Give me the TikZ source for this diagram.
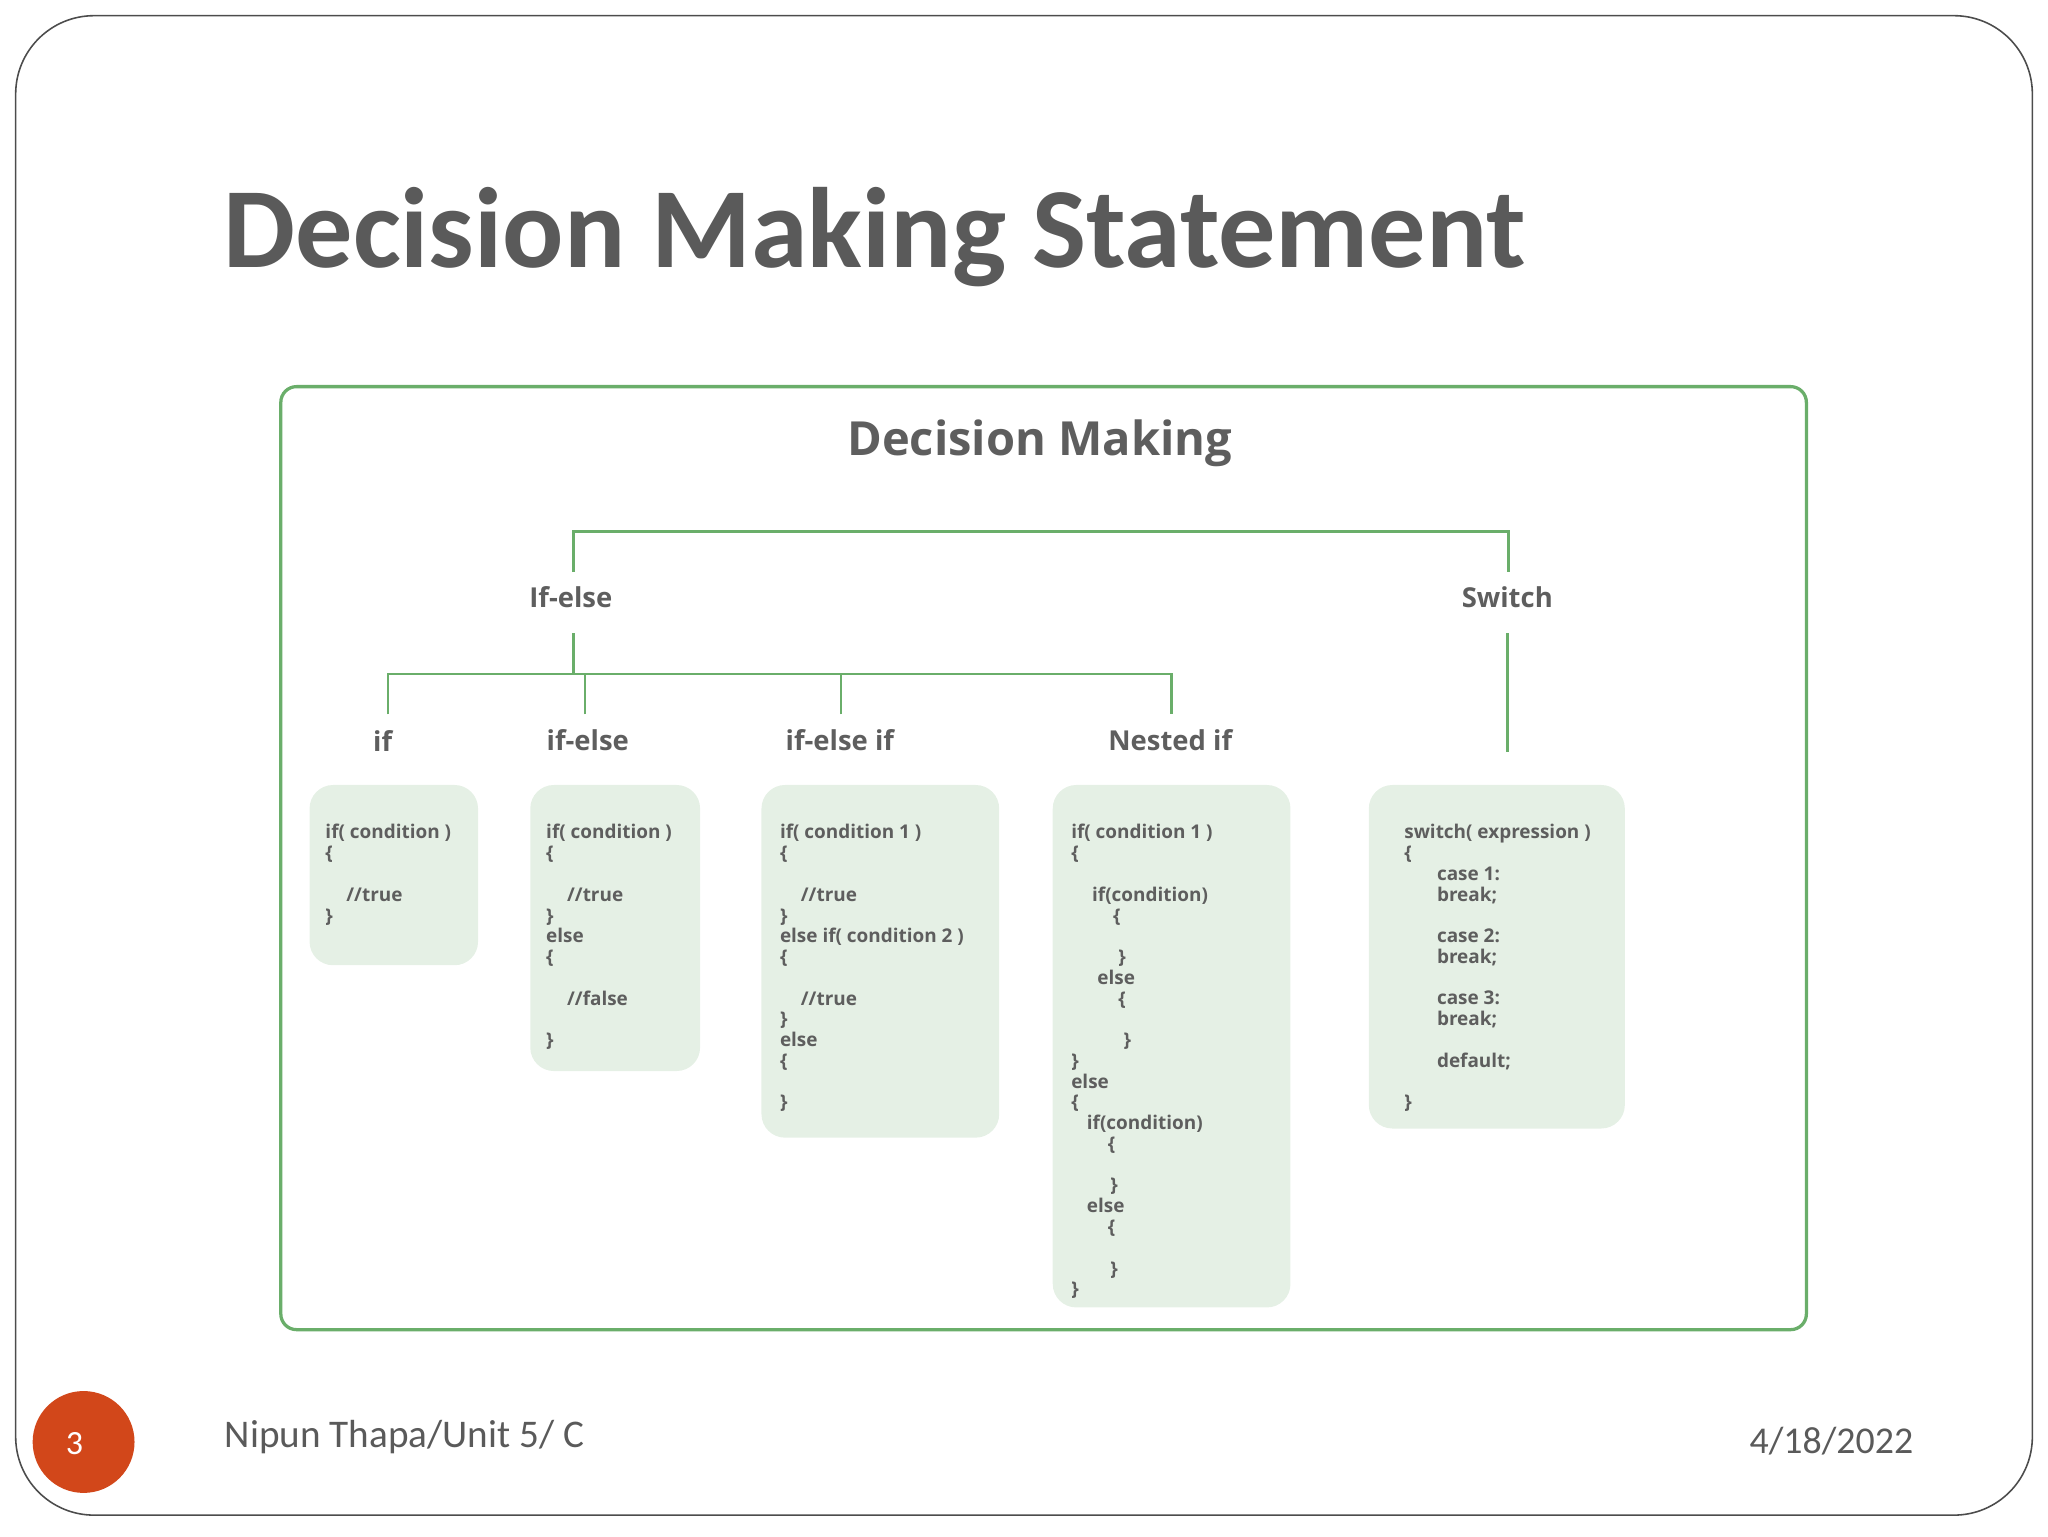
\documentclass[tikz,border=0pt]{standalone}
\usepackage{fontspec}
\setmainfont{Carlito}
\newfontfamily\diag{Open Sans}
\definecolor{gline}{HTML}{6AAE6A}
\definecolor{gfill}{HTML}{E5F0E5}
\definecolor{ttl}{HTML}{5A5A5A}
\definecolor{ctext}{HTML}{5E5E5E}
\definecolor{orng}{HTML}{D2471A}
\begin{document}
\begin{tikzpicture}[x=1pt,y=-1pt,
  conn/.style={draw=gline,line width=2pt},
  codebox/.style={fill=gfill,rounded corners=18pt},
  code/.style={anchor=north west,align=left,inner sep=0pt,font=\diag\bfseries\fontsize{14.5}{15.9}\selectfont,text=ctext},
  lbl/.style={font=\diag\bfseries\fontsize{21}{24}\selectfont,text=ctext},
  hd/.style={font=\diag\bfseries\fontsize{36}{40}\selectfont,text=ctext}]
\useasboundingbox (0,0) rectangle (1568,1176);
\draw[line width=1.2pt,rounded corners=60pt,draw=black!70] (12,12) rectangle (1556,1160);
\node[anchor=base west,inner sep=0pt,font=\bfseries\fontsize{87.5}{90}\selectfont,text=ttl] (title) at (171,205) {Decision Making Statement};
\draw[gline,line width=2.5pt,rounded corners=12pt] (215,296) rectangle (1383,1018);
\node[hd] (dm) at (796,339) {Decision Making};
% level 1
\node[lbl] (ifelse) at (437,457) {If-else};
\node[lbl] (switch) at (1154,457) {Switch};
\coordinate (t1) at (439,438); \coordinate (t2) at (1155,438);
\draw[conn] (t1) |- (1155,407) -- (t2);
% level 2
\node[lbl] (nif) at (293,567) {if};
\node[lbl] (nifelse) at (450,567) {if-else};
\node[lbl] (nelif) at (643,567) {if-else if};
\node[lbl] (nnest) at (896,567) {Nested if};
\coordinate (b0) at (439,485); \coordinate (b1) at (439,516);
\coordinate (c1) at (297,547); \coordinate (c2) at (448,547);
\coordinate (c3) at (644,547); \coordinate (c4) at (897,547);
\draw[conn] (b0) -- (b1);
\draw[conn] (c1) |- (897,516) -- (c4);
\draw[conn] (c2) -- (448,516);
\draw[conn] (c3) -- (644,516);
\coordinate (s0) at (1154,485); \coordinate (s1) at (1154,576);
\draw[conn] (s0) -- (s1);
% boxes
\fill[codebox] (237,601) rectangle (366,739);
\fill[codebox] (406,601) rectangle (536,820);
\fill[codebox] (583,601) rectangle (765,871);
\fill[codebox] (806,601) rectangle (988,1001);
\fill[codebox] (1048,601) rectangle (1244,864);
\node[code] (k1) at (249,631) {if( condition )\\\{\\ \\\hspace*{16pt}//true\\\}};
\node[code] (k2) at (418,631) {if( condition )\\\{\\ \\\hspace*{16pt}//true\\\}\\else\\\{\\ \\\hspace*{16pt}//false\\ \\\}};
\node[code] (k3) at (597,631) {if( condition 1 )\\\{\\ \\\hspace*{16pt}//true\\\}\\else if( condition 2 )\\\{\\ \\\hspace*{16pt}//true\\\}\\else\\\{\\ \\\}};
\node[code] (k4) at (820,631) {if( condition 1 )\\\{\\ \\\hspace*{16pt}if(condition)\\\hspace*{32pt}\{\\ \\\hspace*{36pt}\}\\\hspace*{20pt}else\\\hspace*{36pt}\{\\ \\\hspace*{40pt}\}\\\}\\else\\\{\\\hspace*{12pt}if(condition)\\\hspace*{28pt}\{\\ \\\hspace*{30pt}\}\\\hspace*{12pt}else\\\hspace*{28pt}\{\\ \\\hspace*{30pt}\}\\\}};
\node[code] (k5) at (1075,631) {switch( expression )\\\{\\\hspace*{25pt}case 1:\\\hspace*{25pt}break;\\ \\\hspace*{25pt}case 2:\\\hspace*{25pt}break;\\ \\\hspace*{25pt}case 3:\\\hspace*{25pt}break;\\ \\\hspace*{25pt}default;\\ \\\}};
% footer
\node[circle,fill=orng,minimum size=78pt,inner sep=0pt,text=white,font=\fontsize{26}{30}\selectfont] (pg) at (64,1104) {};
\node[text=white,font=\fontsize{26}{30}\selectfont,inner sep=0pt] (pgn) at (57,1105) {3};
\node[anchor=base west,inner sep=0pt,font=\fontsize{30}{32}\selectfont,text=ttl] (ft) at (172,1108) {Nipun Thapa/Unit 5/ C};
\node[anchor=base east,inner sep=0pt,font=\fontsize{29}{32}\selectfont,text=ttl] (dt) at (1465,1113) {4/18/2022};
\end{tikzpicture}
\end{document}
